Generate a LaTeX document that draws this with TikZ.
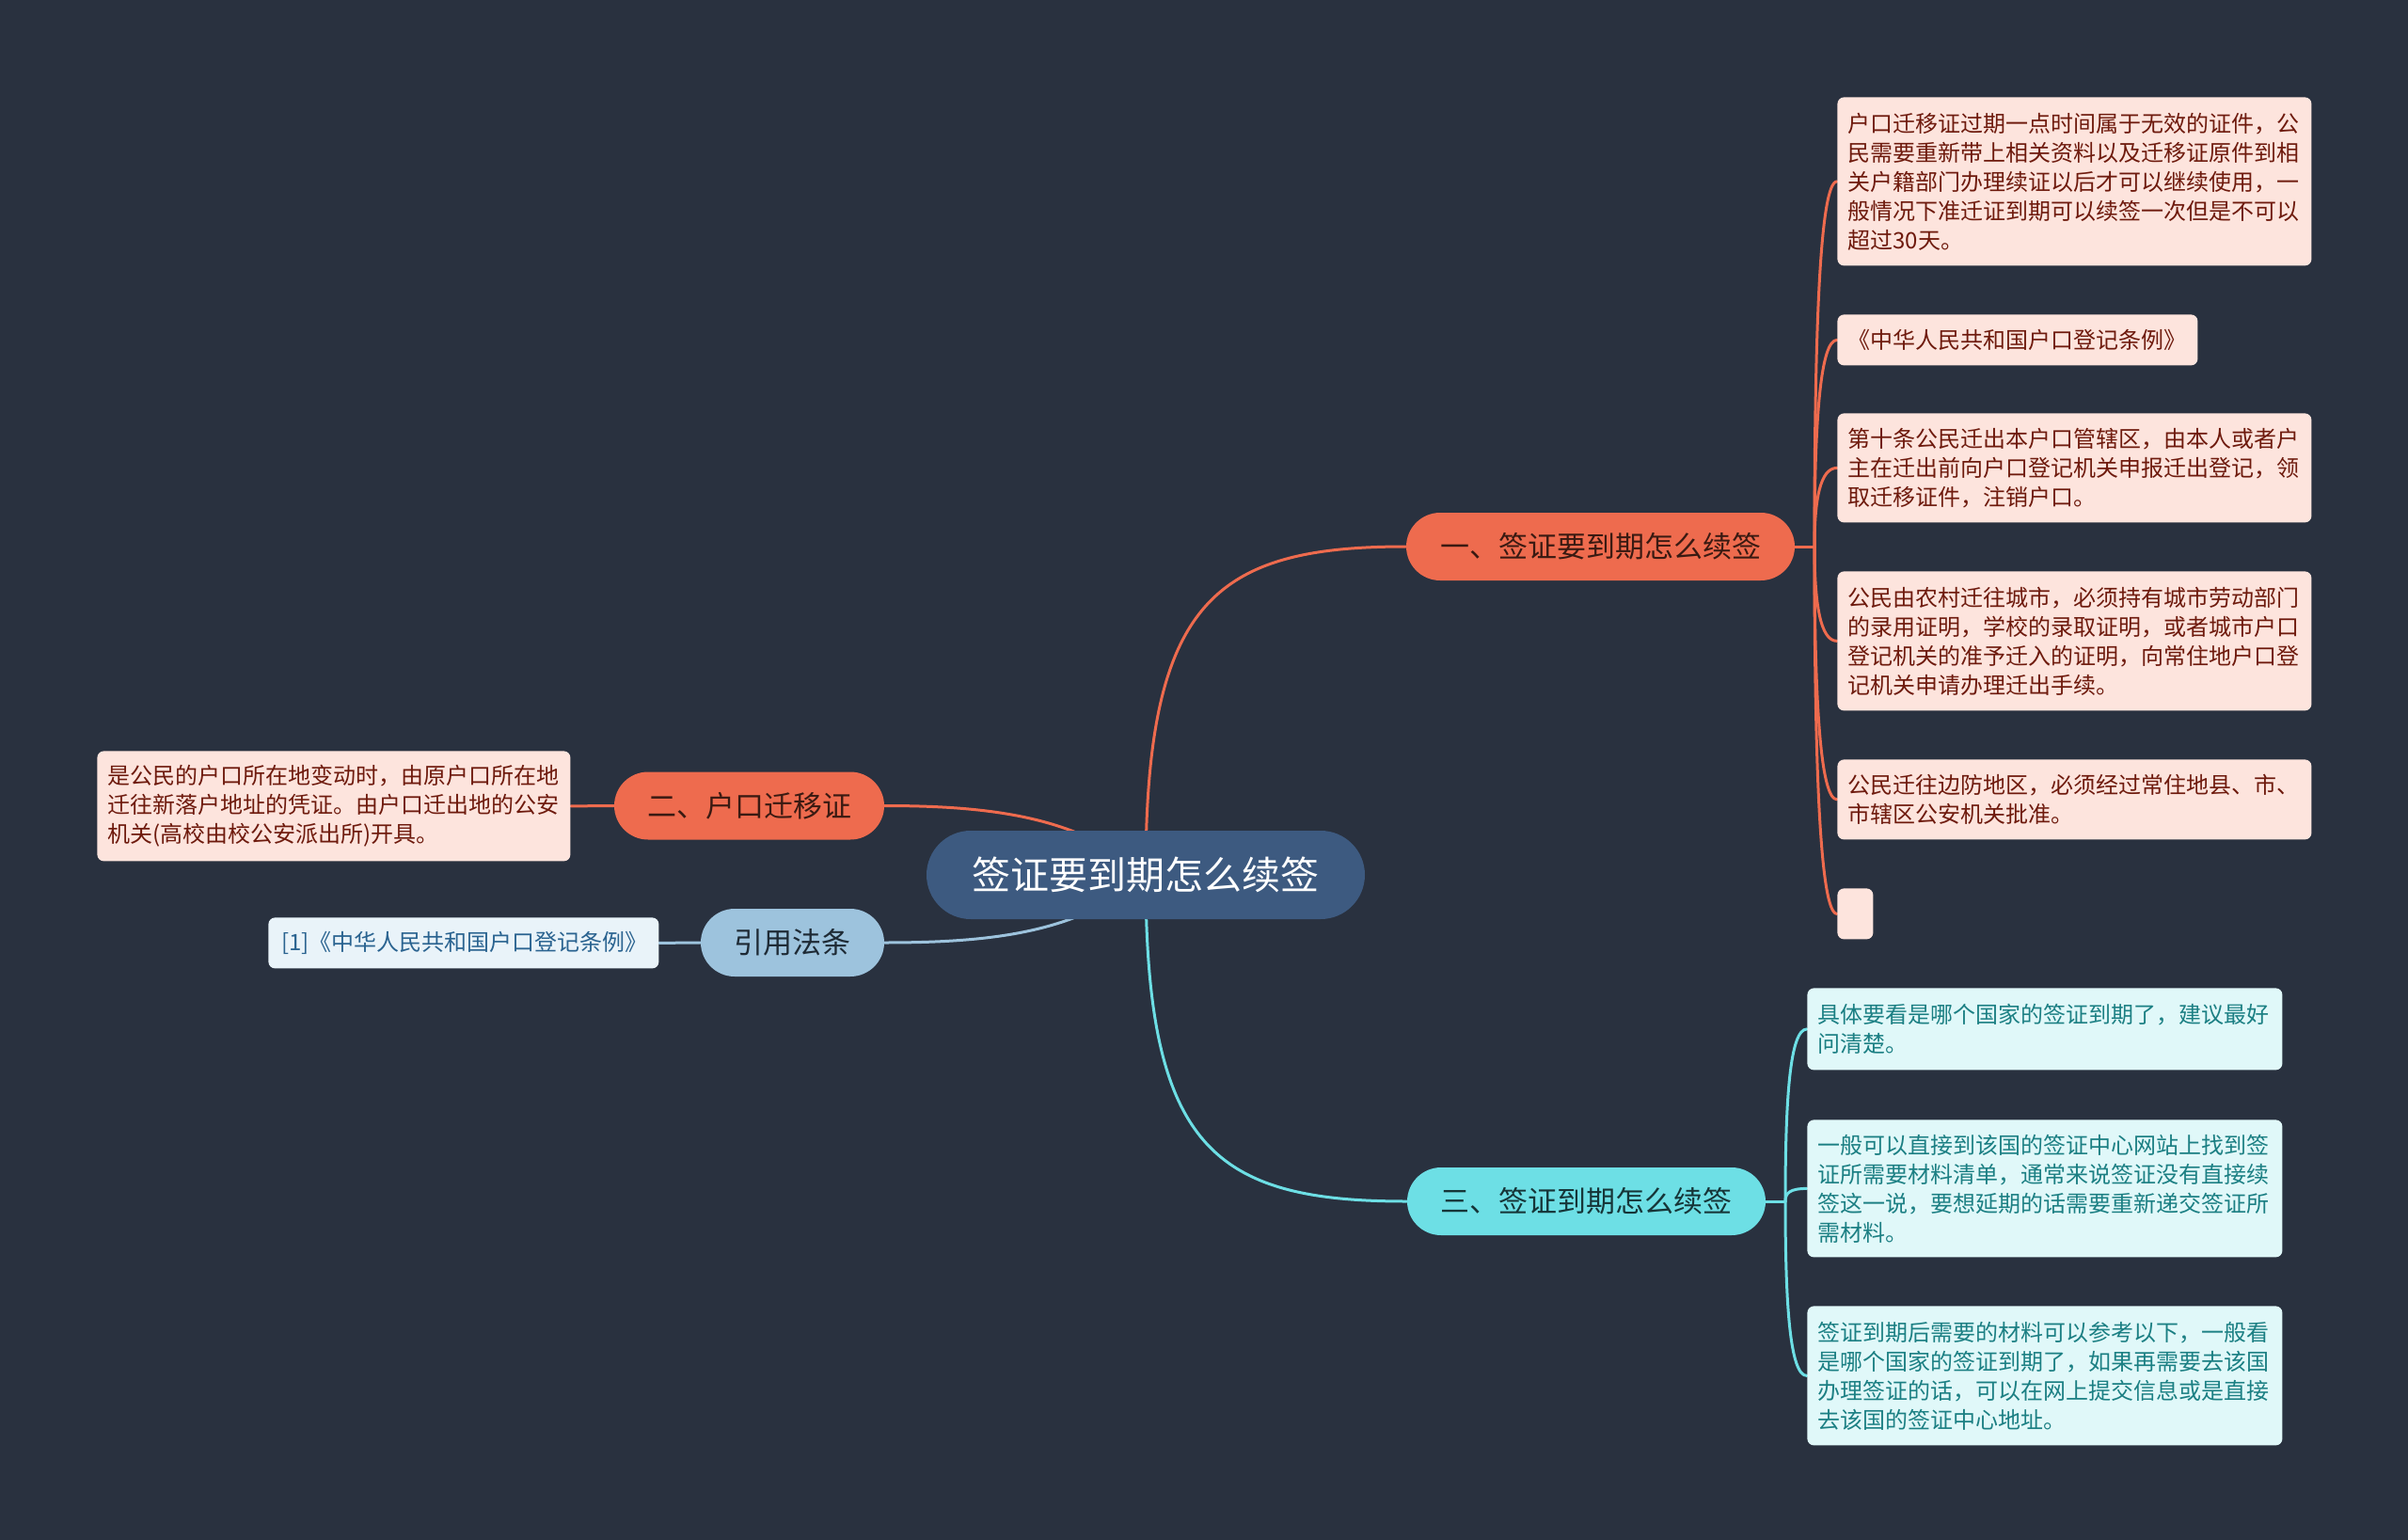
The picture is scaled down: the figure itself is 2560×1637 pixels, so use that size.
\documentclass[tikz,border=0pt]{standalone}
\usepackage{fontspec}
\setmainfont{Noto Sans CJK SC}
\usetikzlibrary{backgrounds}
\definecolor{bgc}{HTML}{29313F}
\definecolor{cen}{HTML}{3D5A80}
\definecolor{red}{HTML}{EE6B4E}
\definecolor{redtxt}{HTML}{3A1A12}
\definecolor{redleaf}{HTML}{FDE4DD}
\definecolor{redleaftxt}{HTML}{6E1A0D}
\definecolor{cya}{HTML}{6DDFE5}
\definecolor{cyatxt}{HTML}{163538}
\definecolor{cyaleaf}{HTML}{E0F8F9}
\definecolor{cyaleaftxt}{HTML}{1B7F83}
\definecolor{blu}{HTML}{9DC3DD}
\definecolor{blutxt}{HTML}{1E2A35}
\definecolor{bluleaf}{HTML}{E9F3F9}
\definecolor{bluleaftxt}{HTML}{2A6390}
\begin{document}
\begin{tikzpicture}[x=0.5pt,y=-0.5pt,
  central/.style={fill=cen, text=white, rounded corners=23.5pt, minimum width=233pt, minimum height=47pt, inner sep=0pt, font=\fontsize{20.5pt}{24pt}\selectfont},
  mainnode/.style={rounded corners=18pt, minimum height=36pt, inner sep=0pt, font=\fontsize{15.5pt}{18pt}\selectfont},
  leaf/.style={anchor=north west, rounded corners=3.5pt, inner xsep=5.5pt, inner ysep=0pt, align=left, font=\fontsize{12pt}{15.5pt}\selectfont},
  rleaf/.style={leaf, fill=redleaf, text=redleaftxt},
  cleaf/.style={leaf, fill=cyaleaf, text=cyaleaftxt},
  bleaf/.style={leaf, fill=bluleaf, text=bluleaftxt},
  conn/.style={line width=1.5pt, line cap=round},
]
\begin{pgfonlayer}{background}
\fill[bgc] (0,0) rectangle (2560,1637);
\end{pgfonlayer}
\useasboundingbox (0,0) rectangle (2560,1637);

% central and main nodes
\node[central] (c) at (1218,930) {签证要到期怎么续签};
\node[mainnode, fill=red, text=redtxt, minimum width=206.5pt] (yi) at (1701.5,581) {一、签证要到期怎么续签};
\node[mainnode, fill=cya, text=cyatxt, minimum width=190.5pt] (san) at (1686.5,1277) {三、签证到期怎么续签};
\node[mainnode, fill=red, text=redtxt, minimum width=143.5pt] (er) at (796.5,856.5) {二、户口迁移证};
\node[mainnode, fill=blu, text=blutxt, minimum width=97.5pt] (yin) at (842.5,1002) {引用法条};

% red leaves
\node[rleaf, text width=241pt, minimum height=89.5pt] (r1) at (1953,103) {户口迁移证过期一点时间属于无效的证件，公\\民需要重新带上相关资料以及迁移证原件到相\\关户籍部门办理续证以后才可以继续使用，一\\般情况下准迁证到期可以续签一次但是不可以\\超过30天。};
\node[rleaf, text width=180.5pt, minimum height=27pt] (r2) at (1953,334) {《中华人民共和国户口登记条例》};
\node[rleaf, text width=241pt, minimum height=58pt] (r3) at (1953,439) {第十条公民迁出本户口管辖区，由本人或者户\\主在迁出前向户口登记机关申报迁出登记，领\\取迁移证件，注销户口。};
\node[rleaf, text width=241pt, minimum height=74pt] (r4) at (1953,607) {公民由农村迁往城市，必须持有城市劳动部门\\的录用证明，学校的录取证明，或者城市户口\\登记机关的准予迁入的证明，向常住地户口登\\记机关申请办理迁出手续。};
\node[rleaf, text width=241pt, minimum height=42.5pt] (r5) at (1953,807) {公民迁往边防地区，必须经过常住地县、市、\\市辖区公安机关批准。};
\node[rleaf, inner sep=0pt, minimum width=19pt, minimum height=27pt] (r6) at (1953,944) {};

% cyan leaves
\node[cleaf, text width=241.5pt, minimum height=43.5pt] (c1) at (1921,1050) {具体要看是哪个国家的签证到期了，建议最好\\问清楚。};
\node[cleaf, text width=241.5pt, minimum height=73pt] (c2) at (1921,1190) {一般可以直接到该国的签证中心网站上找到签\\证所需要材料清单，通常来说签证没有直接续\\签这一说，要想延期的话需要重新递交签证所\\需材料。};
\node[cleaf, text width=241.5pt, minimum height=74pt] (c3) at (1921,1388) {签证到期后需要的材料可以参考以下，一般看\\是哪个国家的签证到期了，如果再需要去该国\\办理签证的话，可以在网上提交信息或是直接\\去该国的签证中心地址。};

% left leaves
\node[rleaf, text width=240.5pt, minimum height=58.5pt] (l1) at (103,798) {是公民的户口所在地变动时，由原户口所在地\\迁往新落户地址的凭证。由户口迁出地的公安\\机关(高校由校公安派出所)开具。};
\node[bleaf, inner xsep=7pt, text width=193.5pt, minimum height=27pt] (b1) at (285,975) {[1]《中华人民共和国户口登记条例》};

\coordinate (jr) at (1929,581);
\coordinate (jc) at (1898,1277);

\begin{pgfonlayer}{background}
% central connectors
\draw[conn, red] (c.center) .. controls (1218,640) and (1290,581) .. (yi.west);
\draw[conn, cya] (c.center) .. controls (1218,1220) and (1290,1277) .. (san.west);
\draw[conn, red] (c.center) .. controls (1150,870) and (1060,856.5) .. (er.east);
\draw[conn, blu] (c.center) .. controls (1150,990) and (1060,1002) .. (yin.east);
% left leaf connectors
\draw[conn, red] (er.west) -- (l1.east);
\draw[conn, blu] (yin.west) -- (b1.east);
% red spine
\draw[conn, red] (yi.east) -- (jr);
\draw[conn, red] (jr) .. controls +(0,-233) and +(-18,0) .. (r1.west);
\draw[conn, red] (jr) .. controls +(0,-132) and +(-18,0) .. (r2.west);
\draw[conn, red] (jr) .. controls +(0,-50) and +(-18,0) .. (r3.west);
\draw[conn, red] (jr) .. controls +(0,60) and +(-18,0) .. (r4.west);
\draw[conn, red] (jr) .. controls +(0,161) and +(-18,0) .. (r5.west);
\draw[conn, red] (jr) .. controls +(0,234) and +(-18,0) .. (r6.west);
% cyan spine
\draw[conn, cya] (san.east) -- (jc);
\draw[conn, cya] (jc) .. controls +(0,-110) and +(-18,0) .. (c1.west);
\draw[conn, cya] (jc) .. controls +(0,-9) and +(-18,0) .. (c2.west);
\draw[conn, cya] (jc) .. controls +(0,111) and +(-18,0) .. (c3.west);
\end{pgfonlayer}
\end{tikzpicture}
\end{document}
